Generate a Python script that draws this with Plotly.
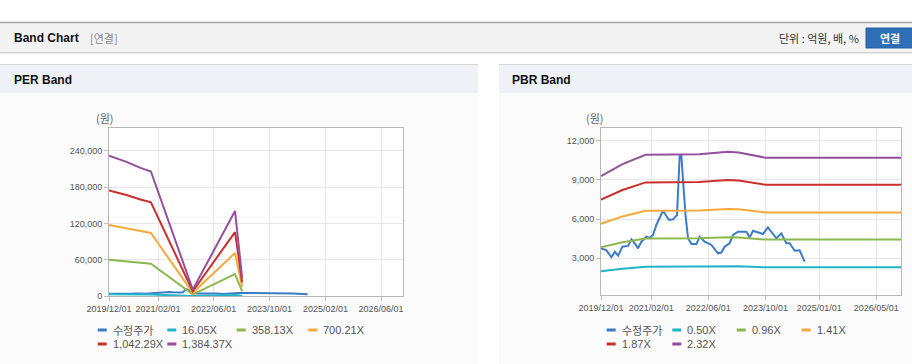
import plotly.graph_objects as go

W, H = 912, 364

# ---------------- data ----------------
price_dates = ["2019-12-01", "2020-01-15", "2020-02-28", "2020-03-28", "2020-04-25", "2020-05-31",
               "2020-07-18", "2020-08-16", "2020-09-13", "2020-10-11", "2020-11-09", "2020-12-21",
               "2021-01-18", "2021-02-16", "2021-03-16", "2021-04-14", "2021-05-12", "2021-06-10",
               "2021-07-02", "2021-08-05", "2021-09-08", "2021-10-01", "2021-10-15", "2021-10-29",
               "2021-11-21", "2021-12-11", "2022-01-09", "2022-02-20", "2022-03-20", "2022-05-02",
               "2022-06-28", "2022-08-23", "2022-09-21", "2022-10-19", "2022-11-30", "2022-12-29",
               "2023-02-10", "2023-04-22", "2023-05-20", "2023-06-17", "2023-08-13", "2023-09-10",
               "2023-10-22", "2024-01-02", "2024-02-13", "2024-03-27", "2024-04-24", "2024-06-06",
               "2024-07-18", "2024-08-30"]
price = [3760, 3630, 3080, 3500, 3200, 3890,
         3950, 4450, 4150, 3760, 4270, 4650,
         4550, 4780, 5550, 6060, 6640, 6240,
         5930, 5980, 6310, 10900, 10900, 8990,
         6180, 4530, 4090, 4090, 4650, 4270,
         4020, 3380, 3440, 3890, 4150, 4780,
         5030, 5030, 4600, 5110, 4960, 4860,
         5370, 4530, 4910, 4150, 4150, 3580,
         3610, 2740]

per_dates = ["2019-12-01", "2020-05-01", "2020-09-01", "2020-12-01", "2021-12-01", "2022-12-05", "2023-02-05"]
per_1605 = [2700, 2600, 2500, 2400, 120, 1600, 350]
per_35813 = [60000, 57400, 54800, 53300, 2700, 36300, 7800]
per_70021 = [117400, 112300, 107200, 104200, 5300, 71100, 15200]
per_104229 = [174700, 167200, 159600, 155100, 7900, 105800, 22600]
per_138437 = [232000, 222000, 212000, 206000, 10500, 140500, 30000]

pbr_dates = ["2019-12-01", "2020-06-01", "2020-12-15", "2022-03-15", "2022-11-15", "2023-02-15",
             "2023-10-01", "2026-11-28"]
pbr_050 = [2003, 2200, 2355, 2362, 2403, 2392, 2306, 2306]
pbr_096 = [3846, 4224, 4521, 4535, 4614, 4593, 4428, 4428]
pbr_141 = [5648, 6204, 6640, 6661, 6776, 6745, 6503, 6503]
pbr_187 = [7491, 8228, 8806, 8834, 8987, 8946, 8624, 8624]
pbr_232 = [9294, 10208, 10925, 10960, 11150, 11100, 10700, 10700]

per_names = ["수정주가", "16.05X", "358.13X", "700.21X", "1,042.29X", "1,384.37X"]
pbr_names = ["수정주가", "0.50X", "0.96X", "1.41X", "1.87X", "2.32X"]
colors = ["#3d7bc7", "#22b4c9", "#8cb84f", "#f5a93c", "#c9302c", "#94509e"]

per_xtick_vals = ["2019-12-01", "2021-02-01", "2022-06-01", "2023-10-01", "2025-02-01", "2026-06-01"]
per_xtick_text = ["2019/12/01", "2021/02/01", "2022/06/01", "2023/10/01", "2025/02/01", "2026/06/01"]
pbr_xtick_vals = ["2019-12-01", "2021-02-01", "2022-06-01", "2023-10-01", "2025-01-01", "2026-05-01"]
pbr_xtick_text = ["2019/12/01", "2021/02/01", "2022/06/01", "2023/10/01", "2025/01/01", "2026/05/01"]
per_ytick_vals = [0, 60000, 120000, 180000, 240000]
pbr_ytick_vals = [3000, 6000, 9000, 12000]

FONT = "Liberation Sans, Arial, Noto Sans CJK KR, sans-serif"
KFONT = "Noto Sans CJK KR, Liberation Sans, sans-serif"


def px(x):
    return x / W


def py(y):
    return 1 - y / H


fig = go.Figure()

per_series = [(price_dates, price), (per_dates, per_1605), (per_dates, per_35813),
              (per_dates, per_70021), (per_dates, per_104229), (per_dates, per_138437)]
pbr_series = [(price_dates, price), (pbr_dates, pbr_050), (pbr_dates, pbr_096),
              (pbr_dates, pbr_141), (pbr_dates, pbr_187), (pbr_dates, pbr_232)]

for (d, v), name, c in zip(per_series, per_names, colors):
    fig.add_trace(go.Scatter(x=d, y=v, name=name, mode="lines", line=dict(color=c, width=2),
                             xaxis="x", yaxis="y", showlegend=False))
for (d, v), name, c in zip(pbr_series, pbr_names, colors):
    fig.add_trace(go.Scatter(x=d, y=v, name=name, mode="lines", line=dict(color=c, width=2),
                             xaxis="x2", yaxis="y2", showlegend=False))

axis_common = dict(showline=True, linecolor="#b8b8b8", linewidth=1, mirror=True,
                   showgrid=True, gridcolor="#e6e6e6", gridwidth=1,
                   ticks="outside", ticklen=4, tickcolor="#c0c0c0", automargin=False,
                   tickfont=dict(family=FONT, size=9, color="#555555"), zeroline=False)

fig.update_layout(
    template="none",
    width=W, height=H, margin=dict(l=0, r=0, t=0, b=0, pad=0, autoexpand=False),
    paper_bgcolor="white", plot_bgcolor="white", showlegend=False,
    xaxis=dict(domain=[px(109), px(403)], anchor="y", type="date",
               range=["2019-12-01", "2026-12-10"], tickmode="array",
               tickvals=per_xtick_vals, ticktext=per_xtick_text, **axis_common),
    yaxis=dict(domain=[py(296), py(128)], anchor="x", range=[0, 278000],
               tickmode="array", tickvals=per_ytick_vals, tickformat=",", **axis_common),
    xaxis2=dict(domain=[px(601), px(901)], anchor="y2", type="date",
                range=["2019-12-01", "2026-11-28"], tickmode="array",
                tickvals=pbr_xtick_vals, ticktext=pbr_xtick_text, **axis_common),
    yaxis2=dict(domain=[py(295), py(128)], anchor="x2", range=[190, 12970],
                tickmode="array", tickvals=pbr_ytick_vals, tickformat=",", **axis_common),
)

shapes = []


def rect(x0, y0, x1, y1, fill, line=None):
    shapes.append(dict(type="rect", xref="paper", yref="paper", x0=px(x0), x1=px(x1),
                       y0=py(y1), y1=py(y0), fillcolor=fill,
                       line=dict(width=0) if line is None else line, layer="below"))


def hline(x0, x1, y, color, width=1):
    shapes.append(dict(type="line", xref="paper", yref="paper", x0=px(x0), x1=px(x1),
                       y0=py(y), y1=py(y), line=dict(color=color, width=width), layer="below"))


# top header bar
rect(0, 23, W, 52, "#f3f3f3")
hline(0, W, 22.5, "#a9a9a9", 1.5)
hline(0, W, 52.5, "#d0d0d0", 1)
hline(0, W, 53.5, "#ececec", 1)
# button
shapes.append(dict(type="rect", xref="paper", yref="paper", x0=px(866), x1=px(913),
                   y0=py(48), y1=py(28), fillcolor="#2f6fb6",
                   line=dict(color="#285f9e", width=1), layer="below"))

# panels
for (x0, x1) in [(0, 478), (499, W)]:
    rect(x0, 93, x1, H, "#fbfbfb")
    rect(x0, 65, x1, 93, "#eef2f7")
    hline(x0, x1, 64.5, "#d8d8d8", 1)

# white plot areas
for ax in ["x", "x2"]:
    yax = "y" if ax == "x" else "y2"
    shapes.append(dict(type="rect", xref=ax + " domain", yref=yax + " domain",
                       x0=0, x1=1, y0=0, y1=1, fillcolor="white", line=dict(width=0),
                       layer="below"))

annotations = []


def text(x, y, s, size=11, color="#333333", bold=False, anchor="left", family=FONT):
    if bold:
        s = "<b>" + s + "</b>"
    annotations.append(dict(xref="paper", yref="paper", x=px(x), y=py(y), text=s,
                            showarrow=False, xanchor=anchor, yanchor="middle",
                            font=dict(family=family, size=size, color=color)))


text(12, 38, "Band Chart", size=12, color="#111111", bold=True)
text(88, 38, "[연결]", size=11, color="#8a8a8a", family=KFONT)
text(861, 38, "단위 : 억원, 배, %", size=11, color="#333333", anchor="right", family=KFONT)
text(889.5, 38, "연결", size=11, color="white", bold=True, anchor="center", family=KFONT)

text(12, 80, "PER Band", size=12, color="#111111", bold=True)
text(510, 80, "PBR Band", size=12, color="#111111", bold=True)
text(105, 118, "(원)", size=11, color="#666666", anchor="center", family=KFONT)
text(595, 118, "(원)", size=11, color="#666666", anchor="center", family=KFONT)

# legends (layout positions)
per_leg_pos = [(97.7, 330), (167.3, 330), (236.7, 330), (308.3, 330), (97.7, 344), (167.3, 344)]
pbr_leg_pos = [(606.7, 330), (672.3, 330), (736.7, 330), (801.7, 330), (606.7, 344), (672.3, 344)]
for names, pos in [(per_names, per_leg_pos), (pbr_names, pbr_leg_pos)]:
    for name, c, (lx, ly) in zip(names, colors, pos):
        shapes.append(dict(type="line", xref="paper", yref="paper", x0=px(lx), x1=px(lx + 9),
                           y0=py(ly), y1=py(ly), line=dict(color=c, width=3)))
        text(lx + 13, ly, name, size=11, color="#555555",
             family=KFONT if name == "수정주가" else FONT)

fig.update_layout(shapes=shapes, annotations=annotations)

fig.write_html("out.html", config={"displayModeBar": False},
               post_script="document.body.style.margin='0';document.body.style.overflow='hidden';")
